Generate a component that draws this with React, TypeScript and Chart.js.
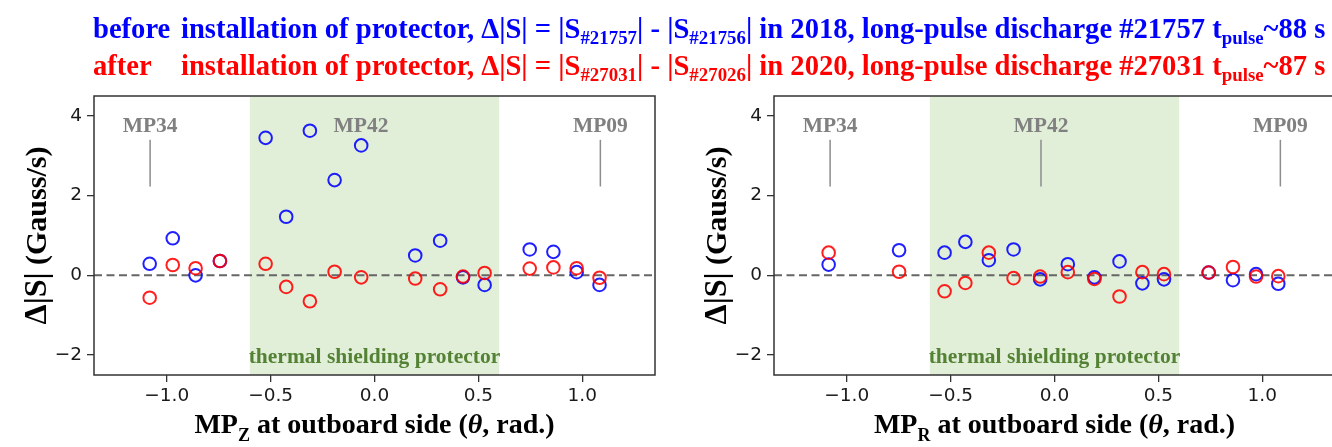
import React, { useEffect, useRef } from "react";
import { Chart, registerables } from "chart.js";

Chart.register(...registerables);

// Probe angles and Δ|S| values, MP_Z array
const zTheta = [-1.082, -0.971, -0.861, -0.744, -0.524, -0.425, -0.311, -0.192, -0.064, 0.196, 0.316, 0.426, 0.53, 0.747, 0.861, 0.973, 1.083];
const zBefore = [0.29, 0.93, 0.0, 0.36, 3.45, 1.47, 3.63, 2.39, 3.26, 0.5, 0.87, -0.05, -0.24, 0.65, 0.59, 0.08, -0.24];
const zAfter = [-0.56, 0.26, 0.18, 0.36, 0.29, -0.29, -0.65, 0.09, -0.05, -0.08, -0.35, -0.03, 0.06, 0.17, 0.2, 0.18, -0.06];

// Probe angles and Δ|S| values, MP_R array
const rTheta = [-1.087, -0.748, -0.529, -0.429, -0.316, -0.197, -0.069, 0.064, 0.192, 0.313, 0.423, 0.527, 0.742, 0.859, 0.97, 1.077];
const rBefore = [0.27, 0.63, 0.57, 0.84, 0.38, 0.65, -0.1, 0.28, -0.05, 0.35, -0.2, -0.1, 0.07, -0.12, 0.03, -0.21];
const rAfter = [0.57, 0.09, -0.4, -0.19, 0.57, -0.07, -0.03, 0.08, -0.09, -0.53, 0.08, 0.03, 0.07, 0.21, -0.03, -0.02];

// Reference probes marked on the plots
const probeNames = ["MP34", "MP42", "MP09"];
const probeTheta = [-1.08, -0.065, 1.087];
const zProbeMarked = [true, false, true];
const rProbeMarked = [true, true, true];

const shieldRange = [-0.6, 0.6];
const shieldLabel = "thermal shielding protector";
const xTicks = [-1, -0.5, 0, 0.5, 1];
const yTicks = [-2, 0, 2, 4];
const xLimits = [-1.35, 1.35];
const yLimits = [-2.5, 4.5];

const SERIF = '"Liberation Serif", "Times New Roman", serif';
const SANS = '"DejaVu Sans", sans-serif';
const BLUE = "#0000ff";
const RED = "#ff0000";

const fmt = (v: number, digits: number) => v.toFixed(digits).replace("-", "\u2212");

type Piece = { t: string; size: number; italic?: boolean; dy?: number };

function drawPieces(ctx: CanvasRenderingContext2D, pieces: Piece[], cx: number, baseline: number) {
  const font = (p: Piece) => `${p.italic ? "italic " : ""}bold ${p.size}px ${SERIF}`;
  let total = 0;
  const widths = pieces.map((p) => {
    ctx.font = font(p);
    const w = ctx.measureText(p.t).width;
    total += w;
    return w;
  });
  let x = cx - total / 2;
  ctx.textAlign = "left";
  ctx.textBaseline = "alphabetic";
  pieces.forEach((p, i) => {
    ctx.font = font(p);
    ctx.fillText(p.t, x, baseline + (p.dy || 0));
    x += widths[i];
  });
}

function makeChart(
  canvas: HTMLCanvasElement,
  theta: number[],
  before: number[],
  after: number[],
  marked: boolean[],
  subLetter: string
) {
  const decor = {
    id: "decor",
    beforeDatasetsDraw(chart: any) {
      const { ctx, chartArea: a, scales } = chart;
      const x = scales.x;
      const y = scales.y;
      ctx.save();
      // shaded protector region
      const x0 = x.getPixelForValue(shieldRange[0]);
      const x1 = x.getPixelForValue(shieldRange[1]);
      ctx.fillStyle = "rgb(225,238,216)";
      ctx.fillRect(x0, a.top, x1 - x0, a.bottom - a.top);
      ctx.fillStyle = "rgb(84,130,53)";
      ctx.font = `bold 21.5px ${SERIF}`;
      ctx.textAlign = "center";
      ctx.textBaseline = "alphabetic";
      ctx.fillText(shieldLabel, x.getPixelForValue(0), y.getPixelForValue(-2.2));
      // probe names and markers
      ctx.fillStyle = "#808080";
      ctx.strokeStyle = "#8c8c8c";
      ctx.lineWidth = 1.5;
      ctx.font = `bold 21.5px ${SERIF}`;
      probeNames.forEach((name, i) => {
        const px = x.getPixelForValue(probeTheta[i]);
        ctx.fillText(name, px, y.getPixelForValue(3.6));
        if (marked[i]) {
          ctx.beginPath();
          ctx.moveTo(px, y.getPixelForValue(3.4));
          ctx.lineTo(px, y.getPixelForValue(2.23));
          ctx.stroke();
        }
      });
      ctx.restore();
    },
    afterDraw(chart: any) {
      const { ctx, chartArea: a } = chart;
      ctx.save();
      ctx.strokeStyle = "#333";
      ctx.lineWidth = 1.5;
      ctx.strokeRect(a.left, a.top, a.right - a.left, a.bottom - a.top);
      ctx.fillStyle = "#000";
      drawPieces(
        ctx,
        [
          { t: "MP", size: 28 },
          { t: subLetter, size: 18, dy: 8 },
          { t: " at outboard side (", size: 28 },
          { t: "\u03b8", size: 28, italic: true },
          { t: ", rad.)", size: 28 },
        ],
        (a.left + a.right) / 2,
        433
      );
      ctx.translate(46, (a.top + a.bottom) / 2);
      ctx.rotate(-Math.PI / 2);
      drawPieces(
        ctx,
        [
          { t: "\u0394|S|", size: 32 },
          { t: " (Gauss/s)", size: 30 },
        ],
        0,
        0
      );
      ctx.restore();
    },
  };

  const pointSet = (vals: number[], color: string) => ({
    data: theta.map((t, i) => ({ x: t, y: vals[i] })),
    showLine: false,
    pointStyle: "circle",
    pointRadius: 6.3,
    pointBorderWidth: 2,
    borderWidth: 2,
    pointBorderColor: color,
    borderColor: color,
    pointBackgroundColor: "rgba(0,0,0,0)",
    backgroundColor: "rgba(0,0,0,0)",
  });

  // Chart.js paints the first dataset last, so "after" (red) sits on top
  // of "before" (blue), and the zero line lies underneath both.
  return new Chart(canvas, {
    type: "scatter",
    data: {
      datasets: [
        pointSet(after, "rgba(255,0,0,0.88)"),
        pointSet(before, "rgba(0,0,255,0.88)"),
        {
          data: [
            { x: xLimits[0], y: 0 },
            { x: xLimits[1], y: 0 },
          ],
          showLine: true,
          borderColor: "#666",
          borderWidth: 2,
          borderDash: [8, 4.5],
          pointRadius: 0,
        },
      ] as any,
    },
    options: {
      animation: false,
      responsive: false,
      events: [],
      layout: { padding: { top: 96, right: 25, left: 0, bottom: 0 } },
      plugins: { legend: { display: false }, tooltip: { enabled: false } },
      scales: {
        x: {
          type: "linear",
          min: xLimits[0],
          max: xLimits[1],
          afterBuildTicks: (s: any) => {
            s.ticks = xTicks.map((v) => ({ value: v }));
          },
          afterFit: (s: any) => {
            s.height = 72;
          },
          ticks: {
            callback: (v: any) => fmt(Number(v), 1),
            font: { family: SANS, size: 18.5 },
            color: "#1a1a1a",
            padding: 3,
            maxRotation: 0,
            autoSkip: false,
          },
          grid: { drawOnChartArea: false, tickLength: 7, color: "#333", lineWidth: 1.3 },
          border: { display: false },
        },
        y: {
          type: "linear",
          min: yLimits[0],
          max: yLimits[1],
          afterBuildTicks: (s: any) => {
            s.ticks = yTicks.map((v) => ({ value: v }));
          },
          afterFit: (s: any) => {
            s.width = 94;
          },
          ticks: {
            callback: (v: any) => fmt(Number(v), 0),
            font: { family: SANS, size: 18.5 },
            color: "#1a1a1a",
            padding: 5,
            autoSkip: false,
          },
          grid: { drawOnChartArea: false, tickLength: 7, color: "#333", lineWidth: 1.3 },
          border: { display: false },
        },
      },
    } as any,
    plugins: [decor],
  });
}

const subStyle: React.CSSProperties = { fontSize: "0.66em", position: "relative", top: "0.3em" };
const leadStyle: React.CSSProperties = { display: "inline-block", width: 88 };

export default function App() {
  const zRef = useRef<HTMLCanvasElement>(null);
  const rRef = useRef<HTMLCanvasElement>(null);

  useEffect(() => {
    const c1 = makeChart(zRef.current!, zTheta, zBefore, zAfter, zProbeMarked, "Z");
    const c2 = makeChart(rRef.current!, rTheta, rBefore, rAfter, rProbeMarked, "R");
    return () => {
      c1.destroy();
      c2.destroy();
    };
  }, []);

  return (
    <div
      style={{
        position: "absolute",
        left: 0,
        top: 0,
        width: 1332,
        height: 447,
        overflow: "hidden",
        background: "#fff",
      }}
    >
      <div
        style={{
          position: "absolute",
          left: 93,
          top: 12,
          font: `bold 28.6px ${SERIF}`,
          lineHeight: "34px",
          whiteSpace: "nowrap",
          zIndex: 2,
        }}
      >
        <div style={{ color: BLUE }}>
          <span style={leadStyle}>before</span>installation of protector, Δ|S| = |S
          <span style={subStyle}>#21757</span>| - |S<span style={subStyle}>#21756</span>| in 2018, long-pulse
          discharge #21757 t<span style={subStyle}>pulse</span>~88 s
        </div>
        <div style={{ color: RED }}>
          <span style={leadStyle}>after</span>installation of protector, Δ|S| = |S
          <span style={subStyle}>#27031</span>| - |S<span style={subStyle}>#27026</span>| in 2020, long-pulse
          discharge #27031 t<span style={subStyle}>pulse</span>~87 s
        </div>
      </div>
      <canvas ref={zRef} width={680} height={447} style={{ position: "absolute", left: 0, top: 0 }} />
      <canvas ref={rRef} width={680} height={447} style={{ position: "absolute", left: 680, top: 0 }} />
    </div>
  );
}
